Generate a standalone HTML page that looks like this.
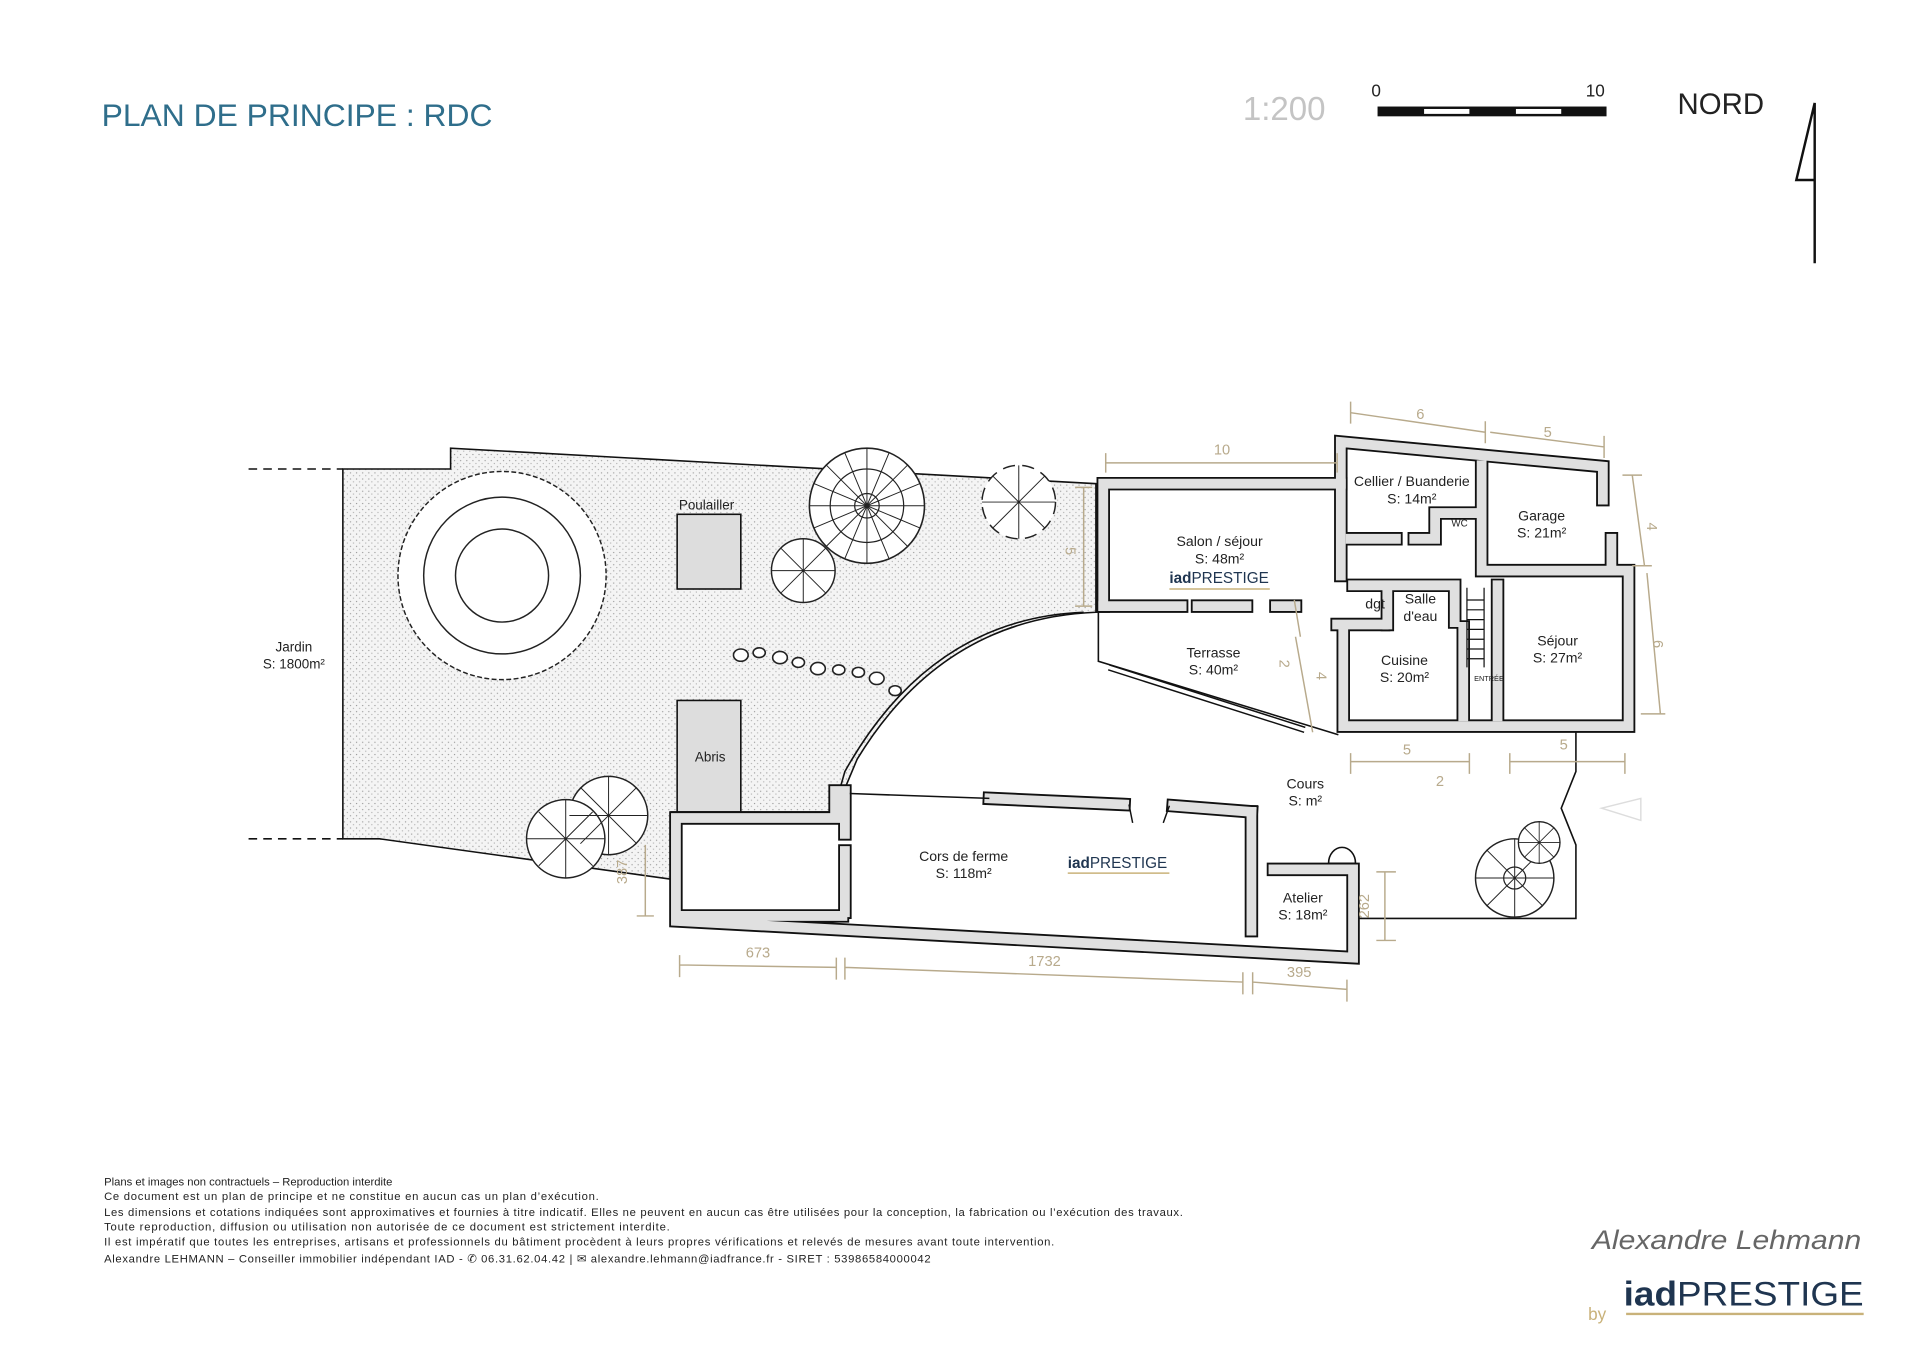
<!DOCTYPE html>
<html><head><meta charset="utf-8"><style>
html,body{margin:0;padding:0;background:#fff;}
svg{display:block;}
text{font-family:"Liberation Sans",sans-serif;}
</style></head><body>
<svg width="1920" height="1358" viewBox="0 0 1568 1109" preserveAspectRatio="none" xmlns="http://www.w3.org/2000/svg">
<defs>
<pattern id="dots" width="5" height="5" patternUnits="userSpaceOnUse">
<rect width="5" height="5" fill="#f4f4f4"/>
<circle cx="1.2" cy="1.2" r="0.55" fill="#999"/><circle cx="3.7" cy="3.5" r="0.5" fill="#aaa"/>
</pattern>
</defs>
<rect width="1568" height="1109" fill="#fff"/>
<!-- header -->
<text x="83" y="103" font-size="26" fill="#2f6e8b">PLAN DE PRINCIPE : RDC</text>
<text x="1015" y="98" font-size="27" fill="#c4c4c4">1:200</text>
<text x="1120" y="79" font-size="14" fill="#222">0</text>
<text x="1295" y="79" font-size="14" fill="#222">10</text>
<rect x="1125" y="87" width="187" height="8" fill="#111"/>
<rect x="1163" y="89" width="37" height="4" fill="#fff"/>
<rect x="1238" y="89" width="37" height="4" fill="#fff"/>
<text x="1370" y="93" font-size="24" fill="#222">NORD</text>
<path d="M1482,84 L1482,215 M1482,84 L1467,147 L1482,147" stroke="#111" stroke-width="2" fill="none"/>

<!-- garden -->
<path d="M280,383 L368,383 L368,366 L895,395 L895,500 Q770,505 700,620 L682,663 L548,663 L548,718 L310,685 L280,685 Z" fill="url(#dots)" stroke="#111" stroke-width="1.3"/>
<path d="M203,383 L280,383 M203,685 L280,685" stroke="#111" stroke-width="1.3" stroke-dasharray="7,5"/>
<path d="M885,500 Q760,505 690,630 L680,665" fill="none" stroke="#111" stroke-width="1.3"/>
<text x="240" y="532" font-size="11" text-anchor="middle" fill="#222">Jardin</text>
<text x="240" y="546" font-size="11" text-anchor="middle" fill="#222">S: 1800m²</text>
<!-- big tree -->
<circle cx="410" cy="470" r="85" fill="#fff" stroke="#222" stroke-width="1.2" stroke-dasharray="4,2"/>
<circle cx="410" cy="470" r="64" fill="none" stroke="#222" stroke-width="1.2"/>
<circle cx="410" cy="470" r="38" fill="none" stroke="#222" stroke-width="1.2"/>
<!-- poulailler / abris -->
<rect x="553" y="420" width="52" height="61" fill="#ddd" stroke="#111" stroke-width="1.3"/>
<text x="577" y="416" font-size="11" text-anchor="middle" fill="#222">Poulailler</text>
<rect x="553" y="572" width="52" height="91" fill="#ddd" stroke="#111" stroke-width="1.3"/>
<text x="580" y="622" font-size="11" text-anchor="middle" fill="#222">Abris</text>
<!-- trees -->
<circle cx="708" cy="413" r="47" fill="#fff" stroke="#222" stroke-width="1.3"/>
<circle cx="708" cy="413" r="30" fill="none" stroke="#222" stroke-width="1"/>
<circle cx="708" cy="413" r="10" fill="none" stroke="#222" stroke-width="1"/>
<g stroke="#222" stroke-width="0.8"><path d="M708,366 L708,460 M661,413 L755,413 M675,380 L741,446 M741,380 L675,446 M690,370 L726,456 M726,370 L690,456 M665,395 L751,431 M751,395 L665,431"/></g>
<circle cx="656" cy="466" r="26" fill="#fff" stroke="#222" stroke-width="1.2"/>
<path d="M656,440 L656,492 M630,466 L682,466 M638,448 L674,484 M674,448 L638,484" stroke="#222" stroke-width="0.8"/>
<circle cx="832" cy="410" r="30" fill="#fff" stroke="#222" stroke-width="1.2" stroke-dasharray="10,6"/>
<path d="M832,380 L832,440 M802,410 L862,410 M811,389 L853,431 M853,389 L811,431" stroke="#222" stroke-width="0.8"/>
<circle cx="497" cy="666" r="32" fill="#fff" stroke="#222" stroke-width="1.2"/>
<circle cx="462" cy="685" r="32" fill="#fff" stroke="#222" stroke-width="1.2"/>
<path d="M497,634 L497,698 M465,666 L529,666 M474,643 L520,689 M520,643 L474,689 M462,653 L462,717 M430,685 L494,685 M440,663 L484,707 M484,663 L440,707" stroke="#222" stroke-width="0.8"/>
<circle cx="1237" cy="717" r="32" fill="#fff" stroke="#222" stroke-width="1.2"/>
<circle cx="1237" cy="717" r="9" fill="none" stroke="#222" stroke-width="1"/>
<path d="M1237,685 L1237,749 M1205,717 L1269,717 M1214,694 L1260,740 M1260,694 L1214,740" stroke="#222" stroke-width="0.8"/>
<circle cx="1257" cy="688" r="17" fill="#fff" stroke="#222" stroke-width="1.1"/>
<path d="M1257,671 L1257,705 M1240,688 L1274,688 M1245,676 L1269,700 M1269,676 L1245,700" stroke="#222" stroke-width="0.7"/>
<!-- stepping stones -->
<g fill="#fff" stroke="#222" stroke-width="1.3">
<ellipse cx="605" cy="535" rx="6" ry="5"/><ellipse cx="620" cy="533" rx="5" ry="4"/><ellipse cx="637" cy="537" rx="6" ry="5"/>
<ellipse cx="652" cy="541" rx="5" ry="4"/><ellipse cx="668" cy="546" rx="6" ry="5"/><ellipse cx="685" cy="547" rx="5" ry="4"/>
<ellipse cx="701" cy="549" rx="5" ry="4"/><ellipse cx="716" cy="554" rx="6" ry="5"/><ellipse cx="731" cy="564" rx="5" ry="4"/>
</g>

<!-- terrasse / cours lines -->
<path d="M897,500 L897,540 L1093,600" fill="none" stroke="#111" stroke-width="1.3"/>
<path d="M906,543 L1066,594 M905,547 L1065,598" stroke="#111" stroke-width="1.2"/>
<path d="M1287,597 L1287,630 L1275,660 L1287,690 L1287,750 L1108,750" fill="none" stroke="#111" stroke-width="1.3"/>

<!-- walls -->
<g fill="none" stroke-linejoin="miter" stroke-linecap="square">
<g stroke="#111" stroke-width="11">
<path d="M901,495 L901,395 L1095,395"/><path d="M901,495 L965,495 M978,495 L1018,495 M1042,495 L1058,495"/>
<path d="M1095,470 L1095,361 L1309,381 L1309,408 M1316,440 L1316,462"/>
<path d="M1210,380 L1210,462 M1210,466 L1330,466 L1330,593 L1097,593 L1097,516 M1092,510 L1130,510"/>
<path d="M1103,440 L1140,440 M1155,440 L1172,440 L1172,419 L1208,419"/>
<path d="M1133,510 L1133,478 L1188,478 L1188,508 M1105,478 L1125,478"/>
<path d="M1195,512 L1195,585 M1223,478 L1223,585"/>
<path d="M552,668 L682,668 L682,646 L690,646 L690,681 M690,695 L690,745 M552,668 L552,752 L1105,782 L1105,710 L1040,710 M1022,663 L1022,760 M555,748 L688,748"/>
<path d="M808,652 L918,657 M958,658 L1022,663"/>
</g>
<g stroke="#e0e0e0" stroke-width="8">
<path d="M901,495 L901,395 L1095,395"/><path d="M901,495 L965,495 M978,495 L1018,495 M1042,495 L1058,495"/>
<path d="M1095,470 L1095,361 L1309,381 L1309,408 M1316,440 L1316,462"/>
<path d="M1210,380 L1210,462 M1210,466 L1330,466 L1330,593 L1097,593 L1097,516 M1092,510 L1130,510"/>
<path d="M1103,440 L1140,440 M1155,440 L1172,440 L1172,419 L1208,419"/>
<path d="M1133,510 L1133,478 L1188,478 L1188,508 M1105,478 L1125,478"/>
<path d="M1195,512 L1195,585 M1223,478 L1223,585"/>
<path d="M552,668 L682,668 L682,646 L690,646 L690,681 M690,695 L690,745 M552,668 L552,752 L1105,782 L1105,710 L1040,710 M1022,663 L1022,760 M555,748 L688,748"/>
<path d="M808,652 L918,657 M958,658 L1022,663"/>
</g>
</g>
<path d="M694,648 L808,652" stroke="#111" stroke-width="1.3" fill="none"/>
<path d="M1085,705 A11,13 0 0 1 1107,705 Z" fill="#fff" stroke="#111" stroke-width="1.3"/>
<path d="M922,657 L925,672 M955,658 L950,672" stroke="#111" stroke-width="1.2"/>
<!-- stairs -->
<g stroke="#111" stroke-width="1"><path d="M1198,480 L1198,545 M1212,480 L1212,545 M1198,490 L1212,490 M1198,498 L1212,498 M1198,506 L1212,506 M1198,514 L1212,514 M1198,522 L1212,522 M1198,530 L1212,530 M1198,538 L1212,538"/></g>

<!-- room labels -->
<g font-size="11.5" fill="#222" text-anchor="middle">
<text x="996" y="446">Salon / séjour</text><text x="996" y="460">S: 48m²</text>
<text x="1153" y="397">Cellier / Buanderie</text><text x="1153" y="411">S: 14m²</text>
<text x="1192" y="430" font-size="8">WC</text>
<text x="1259" y="425">Garage</text><text x="1259" y="439">S: 21m²</text>
<text x="991" y="537">Terrasse</text><text x="991" y="551">S: 40m²</text>
<text x="1123" y="497">dgt</text><text x="1160" y="493">Salle</text><text x="1160" y="507">d'eau</text>
<text x="1147" y="543">Cuisine</text><text x="1147" y="557">S: 20m²</text>
<text x="1272" y="527">Séjour</text><text x="1272" y="541">S: 27m²</text>
<text x="1216" y="556" font-size="6">ENTRÉE</text>
<text x="1066" y="644">Cours</text><text x="1066" y="658">S: m²</text>
<text x="787" y="703">Cors de ferme</text><text x="787" y="717">S: 118m²</text>
<text x="1064" y="737">Atelier</text><text x="1064" y="751">S: 18m²</text>
</g>
<text x="955" y="476" font-size="12.5" fill="#1f3550"><tspan font-weight="bold">iad</tspan>PRESTIGE</text>
<line x1="955" y1="481" x2="1037" y2="481" stroke="#c9b27a" stroke-width="1.2"/>
<text x="872" y="709" font-size="12.5" fill="#1f3550"><tspan font-weight="bold">iad</tspan>PRESTIGE</text>
<line x1="872" y1="713" x2="955" y2="713" stroke="#c9b27a" stroke-width="1.2"/>

<!-- dimensions -->
<g stroke="#b8aa8c" stroke-width="1.2" fill="none">
<path d="M903,378 L1092,378 M903,370 L903,386 M1092,370 L1092,386"/>
<path d="M1103,337 L1213,353 M1217,353 L1310,365 M1103,328 L1103,346 M1213,344 L1213,362 M1310,356 L1310,374"/>
<path d="M1333,388 L1343,462 M1345,468 L1356,583 M1325,388 L1341,388 M1333,462 L1349,462 M1340,583 L1360,583"/>
<path d="M885,398 L885,495 M878,398 L892,398 M878,495 L892,495"/>
<path d="M1057,490 L1062,520 M1058,520 L1072,598"/>
<path d="M1103,622 L1200,622 M1233,622 L1327,622 M1103,615 L1103,632 M1200,615 L1200,632 M1233,615 L1233,632 M1327,615 L1327,632"/>
<path d="M555,788 L683,790 M690,790 L1015,802 M1023,802 L1100,808 M555,780 L555,798 M683,782 L683,800 M690,782 L690,800 M1015,794 L1015,812 M1023,794 L1023,812 M1100,800 L1100,818"/>
<path d="M1131,712 L1131,768 M1124,712 L1140,712 M1124,768 L1140,768 M527,690 L527,748 M520,748 L534,748"/>
</g>
<g font-size="12" fill="#b8aa8c" text-anchor="middle">
<text x="998" y="371">10</text><text x="1160" y="342">6</text><text x="1264" y="357">5</text>
<text x="1345" y="430" transform="rotate(90 1345 430)">4</text><text x="1350" y="526" transform="rotate(90 1350 526)">6</text>
<text x="870" y="450" transform="rotate(90 870 450)">5</text>
<text x="1045" y="542" transform="rotate(90 1045 542)">2</text><text x="1075" y="552" transform="rotate(90 1075 552)">4</text>
<text x="1149" y="616">5</text><text x="1277" y="612">5</text><text x="1176" y="642">2</text>
<text x="619" y="782">673</text><text x="853" y="789">1732</text><text x="1061" y="798">395</text>
<text x="1118" y="740" transform="rotate(-90 1118 740)">262</text><text x="512" y="712" transform="rotate(-90 512 712)">387</text>
</g>
<path d="M1308,660 L1340,652 L1340,670 Z" fill="none" stroke="#ddd" stroke-width="1.2"/>

<!-- footer -->
<g font-size="9.2" fill="#222">
<text x="85" y="968">Plans et images non contractuels – Reproduction interdite</text>
<text x="85" y="980" textLength="404" lengthAdjust="spacing">Ce document est un plan de principe et ne constitue en aucun cas un plan d’exécution.</text>
<text x="85" y="993" textLength="881" lengthAdjust="spacing">Les dimensions et cotations indiquées sont approximatives et fournies à titre indicatif. Elles ne peuvent en aucun cas être utilisées pour la conception, la fabrication ou l’exécution des travaux.</text>
<text x="85" y="1005" textLength="462" lengthAdjust="spacing">Toute reproduction, diffusion ou utilisation non autorisée de ce document est strictement interdite.</text>
<text x="85" y="1017" textLength="776" lengthAdjust="spacing">Il est impératif que toutes les entreprises, artisans et professionnels du bâtiment procèdent à leurs propres vérifications et relevés de mesures avant toute intervention.</text>
<text x="85" y="1031" textLength="675" lengthAdjust="spacing">Alexandre LEHMANN – Conseiller immobilier indépendant IAD - ✆ 06.31.62.04.42 | ✉ alexandre.lehmann@iadfrance.fr - SIRET : 53986584000042</text>
</g>
<text x="1300" y="1020" font-size="22" font-family="Liberation Serif" font-style="italic" fill="#666" textLength="220" lengthAdjust="spacingAndGlyphs">Alexandre Lehmann</text>
<text x="1326" y="1066" font-size="28" fill="#1f3550" textLength="196" lengthAdjust="spacingAndGlyphs"><tspan font-weight="bold">iad</tspan>PRESTIGE</text>
<line x1="1328" y1="1073" x2="1522" y2="1073" stroke="#c9b27a" stroke-width="2"/>
<text x="1297" y="1078" font-size="14" fill="#c9b27a">by</text>
</svg>
</body></html>
